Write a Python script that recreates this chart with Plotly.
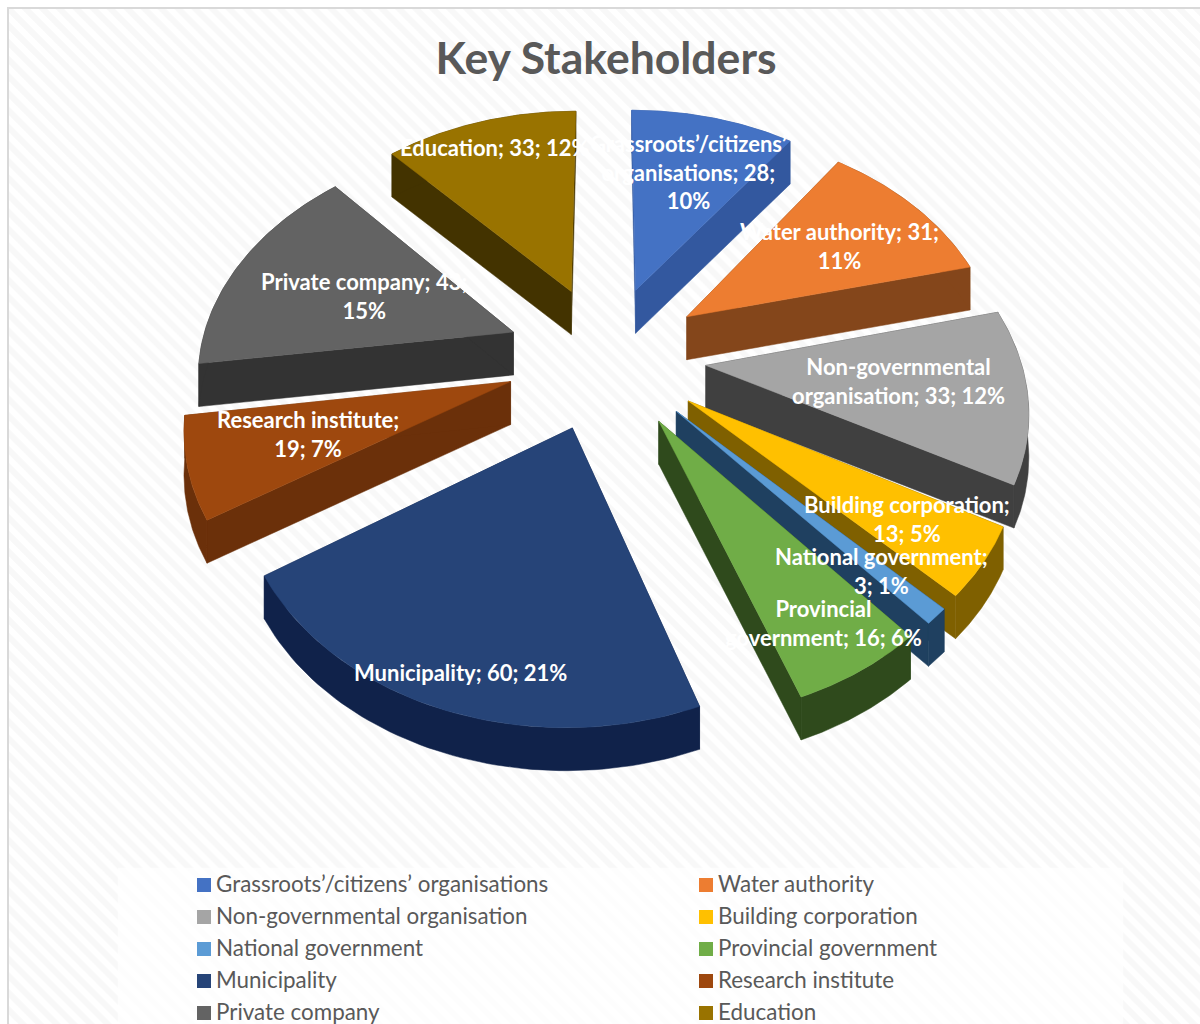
import numpy as np
import plotly.graph_objects as go

categories = ["Grassroots’/citizens’ organisations", "Water authority", "Non-governmental organisation",
              "Building corporation", "National government", "Provincial government",
              "Municipality", "Research institute", "Private company", "Education"]
values = [28, 31, 33, 13, 3, 16, 60, 19, 43, 33]
percents = [10, 11, 12, 5, 1, 6, 21, 7, 15, 12]
top_colors = ["#4472c4", "#ed7d31", "#a5a5a5", "#ffc000", "#5b9bd5", "#70ad47", "#264478", "#9e480e", "#636363", "#997300"]
wall_colors = ["#33589f", "#84461b", "#404040", "#7f6000", "#1f4060", "#2f4a1c", "#10224a", "#6b300a", "#333333", "#433300"]
label_breaks = [["Grassroots’/citizens’", "organisations; 28;", "10%"], ["Water authority; 31;", "11%"],
                ["Non-governmental", "organisation; 33; 12%"], ["Building corporation;", "13; 5%"],
                ["National government;", "3; 1%"], ["Provincial", "government; 16; 6%"],
                ["Municipality; 60; 21%"], ["Research institute;", "19; 7%"],
                ["Private company; 43;", "15%"], ["Education; 33; 12%"]]
label_x = [688, 839, 898, 907, 881, 823, 460, 308, 364, 495]
label_y = [172, 246, 381, 519, 571, 623, 672, 434, 296, 147]

# view of the 3-D pie
CX, CY, K, P, R, EXPLODE, DEPTH = 606, 356, 0.7236, 0.00050, 314, 100, 43


def project(X, Y, drop=0.0):
    s = 1 / (1 + P * Y)
    return CX + X * s, CY - K * Y * s + drop


def polygon(fig, x, y, color, **kw):
    kw.setdefault("hoverinfo", "skip")
    fig.add_trace(go.Scatter(x=list(x), y=list(y), mode="lines", fill="toself", fillcolor=color,
                             line=dict(width=0.5, color=color), showlegend=False, **kw))


fig = go.Figure()
# page hatch, frame and legend panel
fig.add_trace(go.Scatter(x=[8, 1200, 1200, 8, 8], y=[8, 8, 1024, 1024, 8], mode="lines", fill="toself",
                         line=dict(width=0), hoverinfo="skip", showlegend=False,
                         fillcolor="#ffffff",
                         fillpattern=dict(shape="\\", size=12, solidity=0.5, fgcolor="#f1f1f1", bgcolor="#ffffff")))
fig.add_trace(go.Scatter(x=[8, 8, 1200], y=[1024, 8, 8], mode="lines", line=dict(width=2, color="#d9d9d9"),
                         hoverinfo="skip", showlegend=False))
polygon(fig, [118, 1123, 1123, 118, 118], [868, 868, 1024, 1024, 868], "rgba(255,255,255,0.75)", )

edges = np.radians(np.cumsum([0] + values) * 360 / sum(values))
order = sorted(range(len(values)), key=lambda i: -np.cos((edges[i] + edges[i + 1]) / 2))
for i in order:
    a0, a1 = edges[i], edges[i + 1]
    mid = (a0 + a1) / 2
    ox, oy = EXPLODE * np.sin(mid), EXPLODE * np.cos(mid)
    t = np.linspace(a0, a1, 60)
    rx, ry = ox + R * np.sin(t), oy + R * np.cos(t)
    xt, yt = project(rx, ry)
    xb, yb = project(rx, ry, DEPTH)
    apex_t = project(ox, oy)
    apex_b = project(ox, oy, DEPTH)
    # two cut faces, then the rim strip, then the top face
    polygon(fig, [apex_t[0], xt[0], xb[0], apex_b[0], apex_t[0]],
            [apex_t[1], yt[0], yb[0], apex_b[1], apex_t[1]], wall_colors[i])
    polygon(fig, [apex_t[0], xt[-1], xb[-1], apex_b[0], apex_t[0]],
            [apex_t[1], yt[-1], yb[-1], apex_b[1], apex_t[1]], wall_colors[i])
    polygon(fig, np.concatenate([xt, xb[::-1], xt[:1]]), np.concatenate([yt, yb[::-1], yt[:1]]), wall_colors[i])
    polygon(fig, np.concatenate([[apex_t[0]], xt, [apex_t[0]]]), np.concatenate([[apex_t[1]], yt, [apex_t[1]]]),
            top_colors[i], name=categories[i], text=f"{categories[i]}; {values[i]}; {percents[i]}%", hoverinfo="text")

# legend
legend_x0, legend_x1, legend_top = 197, 699, 885
legend_step = 32
lx = [legend_x0 + 7 + (legend_x1 - legend_x0) * (n % 2) for n in range(10)]
ly = [legend_top + legend_step * (n // 2) for n in range(10)]
fig.add_trace(go.Scatter(x=[l + 12 for l in lx], y=[l + 1 for l in ly], mode="text", text=categories,
                         textposition="middle right",
                         textfont=dict(family="Lato", size=22.4, color="#595959"), hoverinfo="skip", showlegend=False))
fig.add_trace(go.Scatter(x=lx, y=ly, mode="markers", marker=dict(symbol="square", size=14, color=top_colors),
                         hoverinfo="skip", showlegend=False))

annotations = [dict(x=x, y=y, xref="x", yref="y", text="<br>".join(t), showarrow=False,
                    font=dict(family="Lato", size=22, color="#ffffff", weight="bold"), align="center")
               for x, y, t in zip(label_x, label_y, label_breaks)]

fig.update_layout(
    width=1200, height=1024, margin=dict(l=0, r=0, t=0, b=0), showlegend=False,
    paper_bgcolor="#ffffff", plot_bgcolor="#ffffff",
    title=dict(text="<b>Key Stakeholders</b>", x=606 / 1200, y=1 - 58 / 1024, xanchor="center", yanchor="middle",
               font=dict(family="Lato", size=44.5, color="#595959")),
    xaxis=dict(range=[0, 1200], visible=False, fixedrange=True),
    yaxis=dict(range=[1024, 0], visible=False, fixedrange=True),
    annotations=annotations,
)
fig.write_html("out.html", config=dict(displayModeBar=False),
               post_script="document.body.style.margin='0';document.body.style.overflow='hidden';")
